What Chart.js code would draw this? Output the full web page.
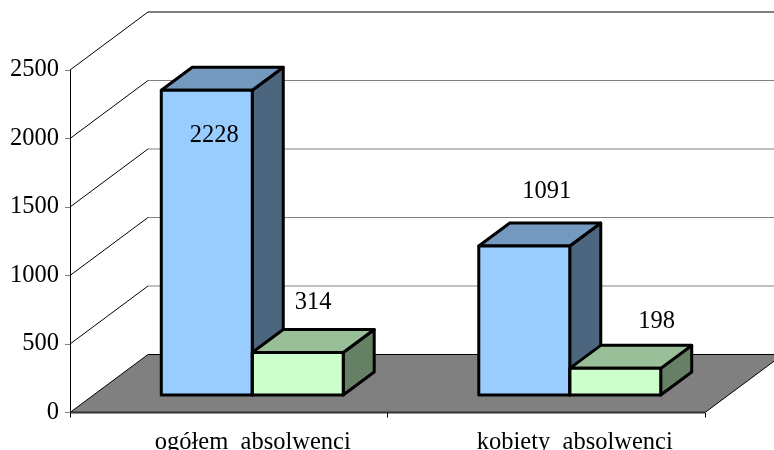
<!DOCTYPE html>
<html>
<head>
<meta charset="utf-8">
<style>html,body{margin:0;padding:0;background:#fff;overflow:hidden}#w{width:774px;height:450px;position:relative}</style>
<script src="https://cdn.jsdelivr.net/npm/chart.js@4/dist/chart.umd.js"></script>
</head>
<body>
<div id="w"><canvas id="c" width="774" height="450"></canvas></div>
<script>
const categories = ["ogółem  absolwenci", "kobiety  absolwenci"];
const seriesOgolem = [2228, 1091];
const seriesDrugi = [314, 198];
const yTicks = [0, 500, 1000, 1500, 2000, 2500];

const font = "Liberation Serif";
const depth = {x: 78, y: 58};      // plot depth
const barDepth = {x: 31, y: 23};   // bar depth
const shift = {x: 23.5, y: 17};    // bars sit in the middle of the floor
const faces = [
  {front: "#99CCFF", top: "#7399BF", side: "#4D6680"},
  {front: "#CCFFCC", top: "#99BF99", side: "#668066"}
];
const labelNudge = [
  [{x: 7.5, y: 45}, {x: 22.5, y: -54}],
  [{x: 15.5, y: -50}, {x: 41.5, y: -47}]
];
const categoryNudge = [0, 4.5];

function poly(ctx, pts, fill, stroke, lw) {
  ctx.beginPath();
  pts.forEach((p, i) => i ? ctx.lineTo(p[0], p[1]) : ctx.moveTo(p[0], p[1]));
  ctx.closePath();
  if (fill) { ctx.fillStyle = fill; ctx.fill(); }
  if (stroke) { ctx.strokeStyle = stroke; ctx.lineWidth = lw; ctx.lineJoin = "round"; ctx.stroke(); }
}
function line(ctx, x0, y0, x1, y1, color, lw) {
  ctx.beginPath(); ctx.moveTo(x0, y0); ctx.lineTo(x1, y1);
  ctx.strokeStyle = color; ctx.lineWidth = lw; ctx.stroke();
}
function edges(el) {
  const w = el.width / 2;
  return {l: el.x - w, r: el.x + w, t: el.y, b: el.base};
}

const plot3d = {
  id: "plot3d",
  beforeDraw(chart) {
    chart.scales.x.getLabelItems().forEach((item, i) => {
      item.options.translation[0] += categoryNudge[i];
    });
  },
  beforeDatasetsDraw(chart) {
    const ctx = chart.ctx, a = chart.chartArea, y = chart.scales.y;
    ctx.save();
    // floor
    poly(ctx, [[a.left, a.bottom], [a.right, a.bottom], [a.right + depth.x, a.bottom - depth.y], [a.left + depth.x, a.bottom - depth.y]], "#808080");
    line(ctx, a.left, a.bottom, a.left + depth.x, a.bottom - depth.y, "#000", 1);
    line(ctx, a.left + depth.x, a.bottom - depth.y, 774, a.bottom - depth.y, "#000", 1);
    line(ctx, a.right, a.bottom, a.right + depth.x, a.bottom - depth.y, "#000", 1);
    // back wall gridlines and left wall diagonals
    yTicks.forEach(v => {
      const p = y.getPixelForValue(v);
      if (v > 0) {
        line(ctx, a.left, p, a.left + depth.x, p - depth.y, "#000", 1);
        line(ctx, a.left + depth.x, p - depth.y, 774, p - depth.y, v === 2500 ? "#000" : "#808080", 1);
      }
    });
    // front floor edge
    line(ctx, a.left, a.bottom, a.right, a.bottom, "#333", 2);
    // bar top and side faces
    ctx.translate(shift.x, -shift.y);
    chart.data.datasets.forEach((d, i) => {
      chart.getDatasetMeta(i).data.forEach(el => {
        const e = edges(el), f = faces[i], dx = barDepth.x, dy = barDepth.y;
        poly(ctx, [[e.r, e.t], [e.r + dx, e.t - dy], [e.r + dx, e.b - dy], [e.r, e.b]], f.side, "#000", 3);
        poly(ctx, [[e.l, e.t], [e.l + dx, e.t - dy], [e.r + dx, e.t - dy], [e.r, e.t]], f.top, "#000", 3);
      });
    });
  },
  afterDatasetsDraw(chart) {
    const ctx = chart.ctx;
    // front-face outlines
    chart.data.datasets.forEach((d, i) => {
      chart.getDatasetMeta(i).data.forEach(el => {
        const e = edges(el);
        poly(ctx, [[e.l, e.t], [e.r, e.t], [e.r, e.b], [e.l, e.b]], null, "#000", 3);
      });
    });
    ctx.restore();
    // value labels
    ctx.save();
    ctx.font = "24.5px '" + font + "'";
    ctx.fillStyle = "#000";
    ctx.textAlign = "center";
    ctx.textBaseline = "middle";
    chart.data.datasets.forEach((d, i) => {
      chart.getDatasetMeta(i).data.forEach((el, j) => {
        const n = labelNudge[i][j];
        ctx.fillText(String(d.data[j]), el.x + shift.x + n.x, el.y - shift.y + n.y);
      });
    });
    ctx.restore();
  }
};

new Chart(document.getElementById("c"), {
  type: "bar",
  data: {
    labels: categories,
    datasets: [
      {data: seriesOgolem, backgroundColor: faces[0].front, borderWidth: 0, clip: false},
      {data: seriesDrugi, backgroundColor: faces[1].front, borderWidth: 0, clip: false}
    ]
  },
  plugins: [plot3d],
  options: {
    responsive: false,
    animation: false,
    devicePixelRatio: 1,
    layout: {padding: {top: 70, right: 69, left: 0, bottom: 0}},
    plugins: {legend: {display: false}, tooltip: {enabled: false}, title: {display: false}},
    datasets: {bar: {barPercentage: 1, categoryPercentage: 0.573}},
    scales: {
      x: {
        afterFit(s) { s.height = 37.5; },
        grid: {display: true, drawOnChartArea: false, drawTicks: true, tickLength: 5, color: "#000", offset: true},
        border: {display: false},
        ticks: {color: "#000", font: {family: font, size: 24.5}, padding: 10, labelOffset: 24, maxRotation: 0, autoSkip: false}
      },
      y: {
        min: 0, max: 2500,
        afterFit(s) { s.width = 70; },
        afterBuildTicks(s) { s.ticks = yTicks.map(v => ({value: v})); },
        grid: {display: true, drawOnChartArea: false, drawTicks: true, tickLength: 5, color: "#808080"},
        border: {display: true, color: "#000", width: 1},
        ticks: {color: "#000", font: {family: font, size: 24.5}, padding: 6, callback: v => String(v)}
      }
    }
  }
});
</script>
</body>
</html>
